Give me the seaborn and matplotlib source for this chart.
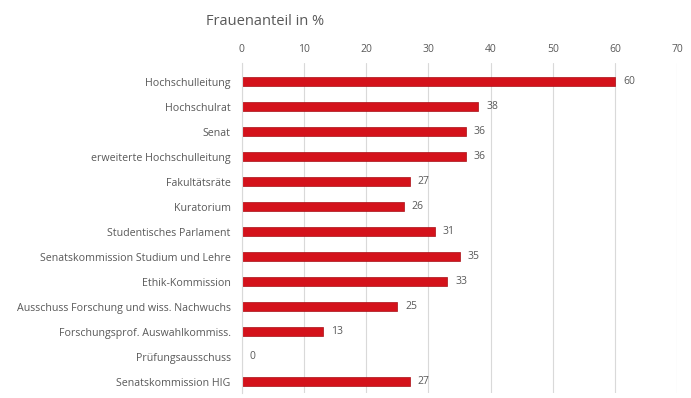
import matplotlib
matplotlib.use("Agg")
import matplotlib.pyplot as plt
import seaborn as sns
import pandas as pd

gremien = [
    "Hochschulleitung",
    "Hochschulrat",
    "Senat",
    "erweiterte Hochschulleitung",
    "Fakultätsräte",
    "Kuratorium",
    "Studentisches Parlament",
    "Senatskommission Studium und Lehre",
    "Ethik-Kommission",
    "Ausschuss Forschung und wiss. Nachwuchs",
    "Forschungsprof. Auswahlkommiss.",
    "Prüfungsausschuss",
    "Senatskommission HIG",
]
frauenanteil = [60, 38, 36, 36, 27, 26, 31, 35, 33, 25, 13, 0, 27]
x_ticks = [0, 10, 20, 30, 40, 50, 60, 70]

df = pd.DataFrame({"Gremium": gremien, "Anteil": frauenanteil})

sns.set_theme(style="white")
plt.rcParams["font.family"] = ["Open Sans", "DejaVu Sans"]

fig = plt.figure(figsize=(6.91, 3.98), dpi=100)
ax = fig.add_axes([0.350, 0.0126, 0.630, 0.829])

sns.barplot(data=df, x="Anteil", y="Gremium", orient="h", color="#d4121b",
            width=0.36, edgecolor="#a80f16", linewidth=0.5, ax=ax,
            saturation=1)

text_col = "#595959"
ax.set_xlim(0, 70)
ax.set_ylim(12.45, -0.75)
ax.set_xticks(x_ticks)
ax.xaxis.tick_top()
ax.tick_params(axis="x", length=0, labelsize=7.5, labelcolor=text_col, pad=6)
ax.tick_params(axis="y", length=0, labelsize=7.7, labelcolor=text_col, pad=8)
ax.set_xlabel("")
ax.set_ylabel("")
ax.grid(axis="x", color="#d9d9d9", linewidth=0.8)
ax.set_axisbelow(True)
for side in ["top", "right", "bottom"]:
    ax.spines[side].set_visible(False)
ax.spines["left"].set_color("#d9d9d9")
ax.spines["left"].set_linewidth(0.8)

for i, v in enumerate(frauenanteil):
    ax.text(v + 1.3, i, f"{v}", va="center", ha="left", fontsize=7.5,
            color=text_col)

fig.text(0.384, 0.945, "Frauenanteil in %", ha="center", va="center",
         fontsize=10.5, color=text_col)

fig.savefig("out.png", dpi=100, facecolor="white")
